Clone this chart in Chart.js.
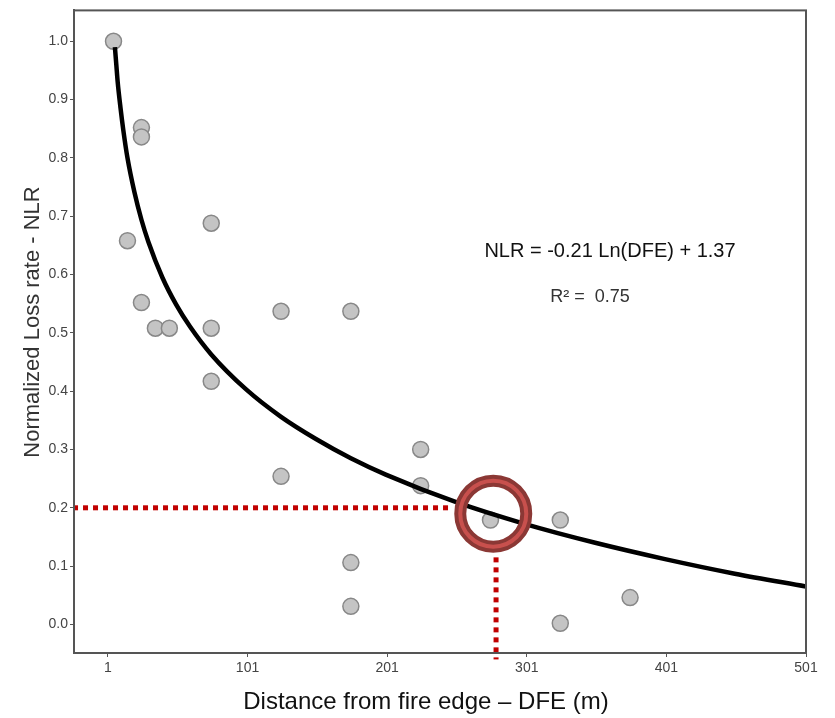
<!DOCTYPE html>
<html>
<head>
<meta charset="utf-8">
<script src="https://cdn.jsdelivr.net/npm/chart.js@4.4.0/dist/chart.umd.min.js"></script>
<style>
  html, body { margin: 0; padding: 0; background: #fff; }
  #wrap { width: 835px; height: 718px; }
</style>
</head>
<body>
<div id="wrap"><canvas id="nlrChart"></canvas></div>
<script>
// Observed points (distance from fire edge, normalized loss rate)
const obsX = [5, 25, 25, 15, 25, 35, 45, 75, 75, 75, 125, 125, 175, 175, 175, 225, 225, 275, 325, 325, 375];
const obsY = [1.0, 0.852, 0.836, 0.658, 0.552, 0.508, 0.508, 0.688, 0.508, 0.417, 0.537, 0.254, 0.537, 0.106, 0.031, 0.300, 0.238, 0.179, 0.179, 0.002, 0.046];

// Fitted curve
const fitX = [6, 7, 8, 10, 12, 15, 20, 25, 30, 40, 50, 60, 75, 100, 125, 150, 175, 200, 250, 300, 350, 400, 450, 501];
const fitY = [0.99, 0.96, 0.93, 0.886, 0.848, 0.80, 0.741, 0.694, 0.656, 0.595, 0.548, 0.51, 0.463, 0.403, 0.356, 0.318, 0.285, 0.257, 0.21, 0.172, 0.14, 0.112, 0.087, 0.065];

// Red guide lines and highlight circle
const guideH = [[-24, 0.2], [248, 0.2]];
const guideV = [[279, 0.115], [279, -0.06]];
const highlight = [[277, 0.190]];

const xTicks = [1, 101, 201, 301, 401, 501];
const yTicks = [0, 0.1, 0.2, 0.3, 0.4, 0.5, 0.6, 0.7, 0.8, 0.9, 1.0];

const fontFamily = 'Arial, "Liberation Sans", sans-serif';

const toPts = (xs, ys) => xs.map((x, i) => ({ x: x, y: ys[i] }));
const pairPts = arr => arr.map(p => ({ x: p[0], y: p[1] }));

// frame, axis titles and equation text
const extras = {
    id: 'extras',
    afterDatasetsDraw(chart) {
        const ctx = chart.ctx;
        const a = chart.chartArea;
        ctx.save();
        ctx.strokeStyle = '#555';
        ctx.lineWidth = 2;
        ctx.strokeRect(a.left, a.top, a.right - a.left, a.bottom - a.top);

        ctx.textAlign = 'center';
        ctx.textBaseline = 'middle';

        ctx.fillStyle = '#111';
        ctx.font = '20px ' + fontFamily;
        ctx.fillText('NLR = -0.21 Ln(DFE) + 1.37', 610, 251);
        ctx.fillStyle = '#333';
        ctx.font = '18px ' + fontFamily;
        ctx.fillText('R\u00B2 =  0.75', 590, 297);

        // x title
        ctx.fillStyle = '#111';
        ctx.font = '24px ' + fontFamily;
        ctx.fillText('Distance from fire edge \u2013 DFE (m)', 426, 702);

        // y title
        ctx.translate(33, 322);
        ctx.rotate(-Math.PI / 2);
        ctx.fillStyle = '#333';
        ctx.font = '22px ' + fontFamily;
        ctx.fillText('Normalized Loss rate - NLR', 0, 0);
        ctx.restore();
    }
};

const chart = new Chart(document.getElementById('nlrChart'), {
    type: 'scatter',
    data: {
        datasets: [
            {
                label: 'Guide H',
                data: pairPts(guideH),
                showLine: true,
                borderColor: '#c00000',
                borderWidth: 5,
                borderDash: [5, 5],
                pointRadius: 0,
                order: 5
            },
            {
                label: 'Guide V',
                data: pairPts(guideV),
                showLine: true,
                borderColor: '#c00000',
                borderWidth: 5,
                borderDash: [5, 5],
                pointRadius: 0,
                clip: false,
                order: 5
            },
            {
                label: 'Observed',
                data: toPts(obsX, obsY),
                backgroundColor: '#c4c4c4',
                borderColor: '#888',
                borderWidth: 1.5,
                pointRadius: 8,
                order: 4
            },
            {
                label: 'Fit',
                data: toPts(fitX, fitY),
                showLine: true,
                borderColor: '#000',
                borderWidth: 4.5,
                pointRadius: 0,
                cubicInterpolationMode: 'monotone',
                order: 3
            },
            {
                label: 'Circle outer',
                data: pairPts(highlight),
                backgroundColor: 'rgba(0,0,0,0)',
                borderColor: '#8b3835',
                borderWidth: 12,
                pointRadius: 33,
                order: 2
            },
            {
                label: 'Circle inner',
                data: pairPts(highlight),
                backgroundColor: 'rgba(0,0,0,0)',
                borderColor: '#c8504d',
                borderWidth: 4,
                pointRadius: 33,
                order: 1
            }
        ]
    },
    options: {
        responsive: true,
        maintainAspectRatio: false,
        animation: false,
        layout: { autoPadding: false, padding: { top: 6, right: 29, left: 0, bottom: 0 } },
        plugins: {
            legend: { display: false },
            tooltip: { enabled: false }
        },
        scales: {
            x: {
                type: 'linear',
                min: -23.3,
                max: 501,
                afterBuildTicks: scale => { scale.ticks = xTicks.map(v => ({ value: v })); },
                afterFit: scale => { scale.height = 65; },
                grid: { drawOnChartArea: false, drawTicks: true, tickLength: 4, color: '#555' },
                border: { display: true, color: '#555', width: 2 },
                ticks: {
                    color: '#444',
                    font: { family: fontFamily, size: 14 },
                    padding: 3,
                    maxRotation: 0
                },
                title: { display: false }
            },
            y: {
                type: 'linear',
                min: -0.049,
                max: 1.053,
                afterBuildTicks: scale => { scale.ticks = yTicks.map(v => ({ value: v })); },
                afterFit: scale => { scale.width = 74; },
                grid: { drawOnChartArea: false, drawTicks: true, tickLength: 4, color: '#555' },
                border: { display: true, color: '#555', width: 2 },
                ticks: {
                    color: '#444',
                    font: { family: fontFamily, size: 14 },
                    padding: 2,
                    callback: v => Number(v).toFixed(1)
                },
                title: { display: false }
            }
        }
    },
    plugins: [extras]
});
</script>
</body>
</html>
